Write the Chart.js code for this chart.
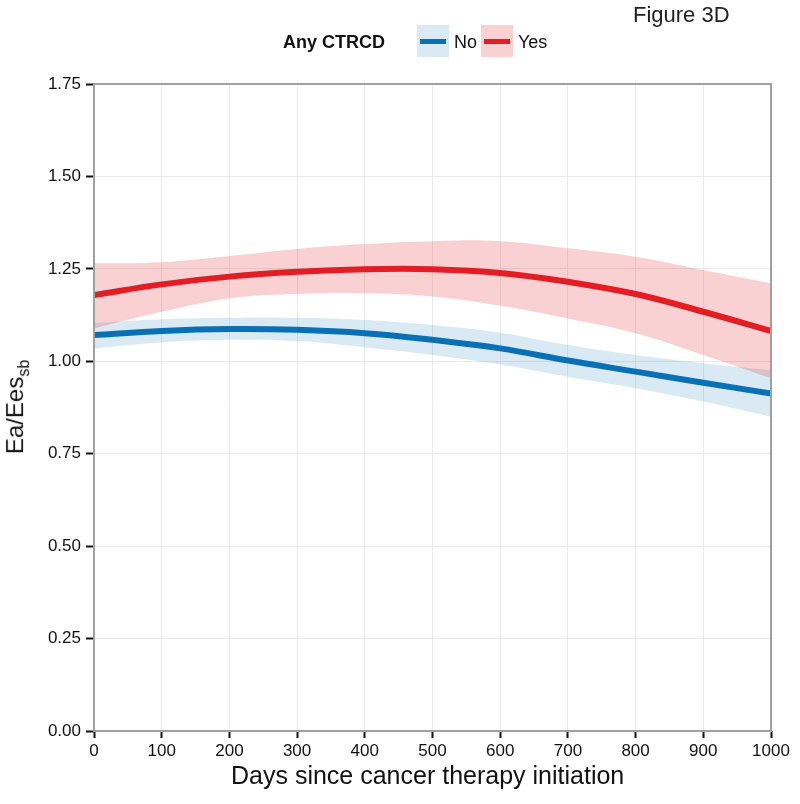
<!DOCTYPE html>
<html>
<head>
<meta charset="utf-8">
<script src="https://cdn.jsdelivr.net/npm/chart.js@4.4.1/dist/chart.umd.min.js"></script>
<style>
  body { margin: 0; background: #fff; font-family: "Liberation Sans", Arial, sans-serif; }
  #wrap { position: relative; width: 800px; height: 804px; }
  .txt { position: absolute; white-space: nowrap; color: #111; }
  .key { position: absolute; width: 32px; height: 32px; }
  .key span { position: absolute; left: 3px; top: 14px; width: 26px; height: 5px; }
</style>
</head>
<body>
<div id="wrap">
  <canvas id="graphCanvas" width="800" height="804"></canvas>
  <div class="txt" style="left:633px; top:2px; font-size:22px; color:#222;">Figure 3D</div>
  <div class="txt" style="left:283px; top:32px; font-size:18px; font-weight:bold;">Any CTRCD</div>
  <div class="key" style="left:417px; top:25px; background:#d9eaf5;"><span style="background:#0a70b5;"></span></div>
  <div class="txt" style="left:454px; top:32px; font-size:18px;">No</div>
  <div class="key" style="left:481px; top:25px; background:#fad1d1;"><span style="background:#e31d24;"></span></div>
  <div class="txt" style="left:518px; top:32px; font-size:18px;">Yes</div>
  <div class="txt" style="left:231px; top:761px; font-size:25px;">Days since cancer therapy initiation</div>
  <div class="txt" style="left:17px; top:407px; font-size:24px; transform: translate(-50%, -50%) rotate(-90deg);">Ea/Ees<sub style="font-size:16px;">sb</sub></div>
</div>
<script>
// days since therapy start
var days = [0, 100, 200, 300, 400, 500, 600, 700, 800, 900, 1000];

// No CTRCD: smooth fit and confidence band
var noFit   = [1.071, 1.082, 1.087, 1.085, 1.076, 1.058, 1.035, 1.002, 0.972, 0.942, 0.913];
var noUpper = [1.104, 1.114, 1.118, 1.118, 1.112, 1.098, 1.077, 1.044, 1.017, 0.995, 0.976];
var noLower = [1.035, 1.051, 1.058, 1.055, 1.038, 1.017, 0.991, 0.958, 0.927, 0.891, 0.850];

// Yes CTRCD
var yesFit   = [1.179, 1.208, 1.229, 1.242, 1.249, 1.249, 1.239, 1.215, 1.182, 1.134, 1.082];
var yesUpper = [1.265, 1.268, 1.285, 1.304, 1.317, 1.325, 1.325, 1.306, 1.283, 1.247, 1.211];
var yesLower = [1.089, 1.134, 1.170, 1.182, 1.184, 1.175, 1.150, 1.116, 1.076, 1.017, 0.954];

var yTicks = [0, 0.25, 0.5, 0.75, 1.0, 1.25, 1.5, 1.75];
var xTicks = [0, 100, 200, 300, 400, 500, 600, 700, 800, 900, 1000];

function pts(vals) {
    var out = [];
    for (var i in days) {
        out.push({ x: days[i], y: vals[i] });
    }
    return out;
}

function band(vals, color, fill) {
    return {
        data: pts(vals),
        borderWidth: 0,
        pointRadius: 0,
        backgroundColor: color,
        fill: fill,
        tension: 0.4
    };
}

function line(vals, color) {
    return {
        data: pts(vals),
        borderColor: color,
        borderWidth: 6,
        pointRadius: 0,
        fill: false,
        tension: 0.4
    };
}

// frame round the panel
var framePlugin = {
    id: 'frame',
    afterDatasetsDraw: function(chart) {
        var a = chart.chartArea;
        var ctx = chart.ctx;
        ctx.save();
        ctx.strokeStyle = '#a0a0a0';
        ctx.lineWidth = 2;
        ctx.strokeRect(a.left, a.top, a.right - a.left, a.bottom - a.top);
        ctx.restore();
    }
};

var chartdata = {
    datasets: [
        line(yesFit, '#e31d24'),
        line(noFit, '#0a70b5'),
        band(yesUpper, 'rgba(228, 26, 28, 0.2)', '+1'),
        band(yesLower, 'rgba(228, 26, 28, 0.2)', false),
        band(noUpper, 'rgba(0, 114, 187, 0.15)', '+1'),
        band(noLower, 'rgba(0, 114, 187, 0.15)', false)
    ]
};

var graphTarget = document.getElementById('graphCanvas');

var lineGraph = new Chart(graphTarget, {
    type: 'line',
    data: chartdata,
    plugins: [framePlugin],
    options: {
        responsive: false,
        animation: false,
        layout: { padding: { top: 84, right: 29, left: 0, bottom: 0 } },
        plugins: { legend: { display: false }, tooltip: { enabled: false } },
        scales: {
            x: {
                type: 'linear',
                min: 0,
                max: 1000,
                afterBuildTicks: function(scale) {
                    scale.ticks = xTicks.map(function(v) { return { value: v }; });
                },
                afterFit: function(scale) { scale.height = 73; },
                grid: { color: '#ebebeb', lineWidth: 1, tickColor: '#111', tickWidth: 2, tickLength: 7 },
                border: { display: false },
                ticks: {
                    color: '#111',
                    padding: 3,
                    maxRotation: 0,
                    font: { family: 'Liberation Sans', size: 17 },
                    callback: function(v) { return String(v); }
                }
            },
            y: {
                type: 'linear',
                min: 0,
                max: 1.75,
                afterBuildTicks: function(scale) {
                    scale.ticks = yTicks.map(function(v) { return { value: v }; });
                },
                afterFit: function(scale) { scale.width = 94; },
                grid: { color: '#ebebeb', lineWidth: 1, tickColor: '#111', tickWidth: 2, tickLength: 8 },
                border: { display: false },
                ticks: {
                    color: '#111',
                    padding: 5,
                    font: { family: 'Liberation Sans', size: 17 },
                    callback: function(v) { return v.toFixed(2); }
                }
            }
        }
    }
});
</script>
</body>
</html>
